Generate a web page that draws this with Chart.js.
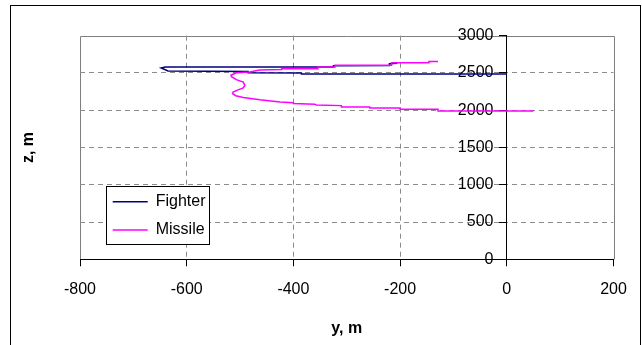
<!DOCTYPE html>
<html>
<head>
<meta charset="utf-8">
<script src="https://cdn.jsdelivr.net/npm/chart.js@4/dist/chart.umd.min.js"></script>
<style>
  body { margin: 0; background: #fff; }
  #wrap { width: 642px; height: 345px; }
</style>
</head>
<body>
<div id="wrap"><canvas id="trajChart" width="642" height="345"></canvas></div>
<script>
// lateral position y (m) and height z (m)
const fighterY = [0, -385, -385, -485, -485, -635, -648, -640, -325, -325, -220, -220, -205];
const fighterZ = [2485, 2485, 2500, 2502, 2520, 2526, 2566, 2580, 2580, 2598, 2600, 2625, 2632];

const missileY = [50, -129, -129, -200, -200, -257, -257, -310, -310, -357, -360, -400, -400, -425, -463, -494, -508, -514, -513, -505, -494, -491, -494, -507, -516, -517, -507, -482, -463, -422, -422, -354, -354, -322, -322, -216, -216, -146, -146, -129];
const missileZ = [1990, 1990, 2013, 2013, 2030, 2030, 2044, 2044, 2062, 2070, 2080, 2090, 2100, 2110, 2140, 2170, 2195, 2223, 2245, 2270, 2300, 2334, 2378, 2410, 2450, 2470, 2502, 2513, 2540, 2545, 2558, 2558, 2580, 2580, 2602, 2602, 2637, 2637, 2655, 2655];

const yAxisRange = [-800, 200];
const zAxisRange = [0, 3000];

Chart.defaults.font.family = "'Liberation Sans', Arial, sans-serif";
Chart.defaults.font.size = 16;
Chart.defaults.color = '#000';

function toPoints(xs, zs) {
    return xs.map((x, i) => ({ x: x, y: zs[i] }));
}

const gridGray = '#8c8c8c';
const legendPad = 12.3;

// frame, legend box placement
const framePlugin = {
    id: 'frame',
    beforeDraw(chart) {
        const ctx = chart.ctx;
        const a = chart.chartArea;
        ctx.save();
        ctx.lineWidth = 1;
        ctx.strokeStyle = '#000';
        ctx.strokeRect(10.5, 5.5, 630, 400); // outer chart border
        ctx.strokeStyle = '#808080';
        let l = Math.round(a.left) + 0.5, r = Math.round(a.right) + 0.5;
        let t = Math.round(a.top) + 0.5, b = Math.round(a.bottom) + 0.5;
        ctx.beginPath();
        ctx.moveTo(l, b); ctx.lineTo(l, t); ctx.lineTo(r, t); ctx.lineTo(r, b);
        ctx.stroke();
        ctx.restore();
    },
    afterUpdate(chart) {
        // move the legend into the lower left of the plot
        let lg = chart.legend;
        lg.left = 112.7 - legendPad; lg.top = 193.7 - legendPad;
        lg.right = 215; lg.bottom = 258;
        lg.width = lg.right - lg.left; lg.height = lg.bottom - lg.top;
    },
    afterDatasetsDraw(chart) {
        const ctx = chart.ctx;
        ctx.save();
        ctx.fillStyle = '#fff';
        ctx.strokeStyle = '#000';
        ctx.lineWidth = 1;
        ctx.fillRect(106.5, 186.5, 103, 58);
        ctx.strokeRect(106.5, 186.5, 103, 58);
        ctx.restore();
        chart.legend.draw();
    }
};

function hideAt(values) {
    return function(c) {
        if (c.tick && values.includes(c.tick.value)) return 'rgba(0,0,0,0)';
        return gridGray;
    };
}

new Chart(document.getElementById('trajChart'), {
    type: 'scatter',
    data: {
        datasets: [{
            label: 'Fighter',
            data: toPoints(fighterY, fighterZ),
            showLine: true,
            borderColor: '#000080',
            backgroundColor: '#000080',
            borderWidth: 1.5,
            pointRadius: 0,
            order: 1
        }, {
            label: 'Missile',
            data: toPoints(missileY, missileZ),
            showLine: true,
            borderColor: '#ff00ff',
            backgroundColor: '#ff00ff',
            borderWidth: 1.5,
            pointRadius: 0,
            order: 0
        }]
    },
    options: {
        responsive: false,
        animation: false,
        devicePixelRatio: 1,
        layout: { padding: { left: 0, right: 28.5, top: 35.7, bottom: 0 } },
        plugins: {
            tooltip: { enabled: false },
            legend: {
                position: 'chartArea',
                align: 'start',
                labels: {
                    usePointStyle: true,
                    pointStyle: 'line',
                    pointStyleWidth: 35,
                    padding: legendPad,
                    color: '#000',
                    font: { size: 16 },
                    sort: (a, b) => a.datasetIndex - b.datasetIndex
                }
            }
        },
        scales: {
            x: {
                type: 'linear',
                position: 'bottom',
                min: yAxisRange[0],
                max: yAxisRange[1],
                afterFit(s) { s.height = 345 - 259.3; },
                ticks: { stepSize: 200, padding: 14, color: '#000', font: { size: 16 } },
                grid: { color: hideAt([-800, 0, 200]), tickColor: '#000', tickLength: 7, tickBorderDash: [] },
                border: { color: '#000', width: 1, dash: [5, 4] },
                title: { display: true, text: 'y, m', font: { size: 16, weight: 'bold' }, padding: { top: 0, bottom: 7 } }
            },
            y: {
                type: 'linear',
                position: { x: 0 },
                min: zAxisRange[0],
                max: zAxisRange[1],
                ticks: { stepSize: 500, color: '#000', font: { size: 16 }, callback: v => v + '   ' },
                grid: { color: hideAt([0, 3000]), tickColor: '#000', tickLength: 7, tickBorderDash: [] },
                border: { color: '#000', width: 1, dash: [5, 4] }
            },
            yt: {
                type: 'linear',
                axis: 'y',
                position: 'left',
                afterFit(s) { s.width = 80; },
                ticks: { display: false },
                grid: { display: false },
                border: { display: false },
                title: { display: true, text: 'z, m', font: { size: 16, weight: 'bold' }, padding: { top: 19, bottom: 0 } }
            }
        }
    },
    plugins: [framePlugin]
});
</script>
</body>
</html>
